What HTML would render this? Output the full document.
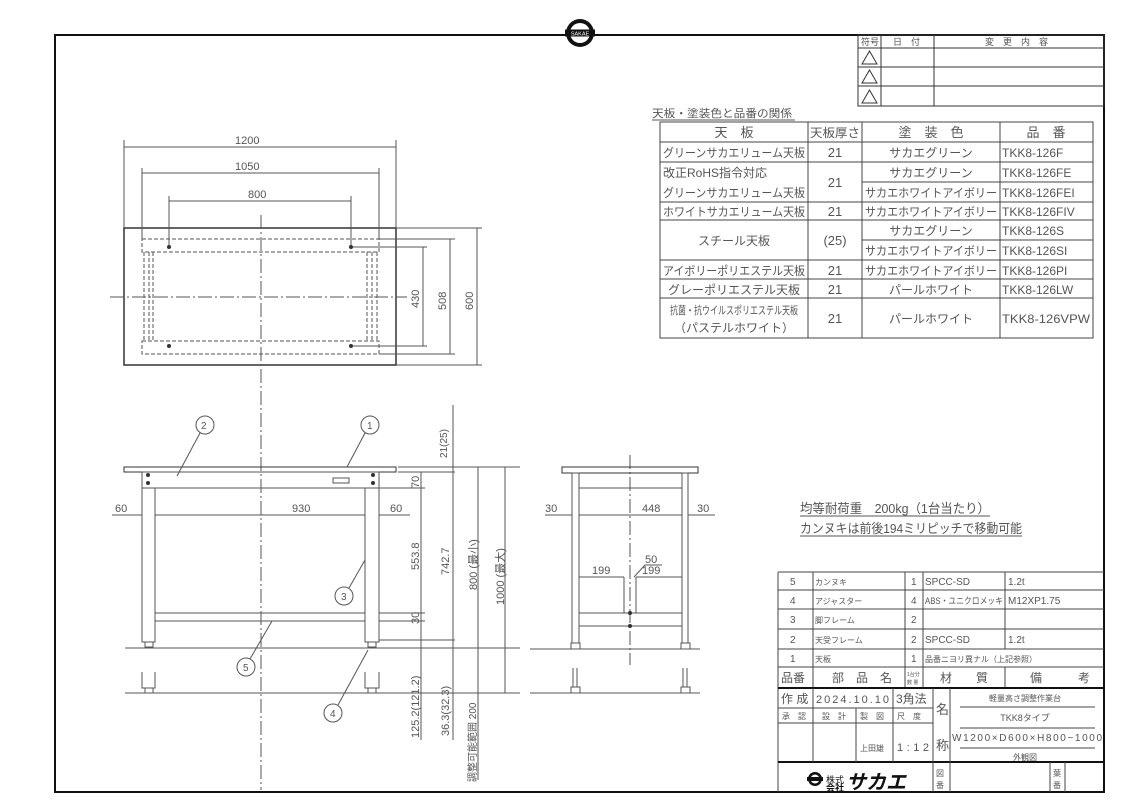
<!DOCTYPE html>
<html><head><meta charset="utf-8"><style>
html,body{margin:0;padding:0;background:#fff;}
svg{display:block;}
text{font-family:"Liberation Sans","Noto Sans CJK JP",sans-serif;fill:#555;}
</style></head><body>
<svg width="1143" height="808" viewBox="0 0 1143 808" xmlns="http://www.w3.org/2000/svg">
<g fill="none" stroke="#111">
<rect x="55" y="35" width="1049" height="757" stroke-width="2"/>
</g>
<!-- logo -->
<circle cx="580" cy="33" r="14" fill="#111"/>
<circle cx="580" cy="33" r="10" fill="#fff"/>
<rect x="565" y="29.5" width="30" height="7" fill="#111"/>
<text x="580" y="35.5" font-size="5.5" text-anchor="middle" style="fill:#fff">SAKAE</text>

<!-- revision table -->
<g stroke="#333" stroke-width="1" fill="none">
<rect x="858" y="35" width="246" height="71"/>
<line x1="858" y1="48" x2="1104" y2="48"/><line x1="858" y1="67" x2="1104" y2="67"/><line x1="858" y1="86" x2="1104" y2="86"/>
<line x1="881" y1="35" x2="881" y2="106"/><line x1="934" y1="35" x2="934" y2="106"/>
<polygon points="862,64 877,64 869.5,51"/><polygon points="862,83 877,83 869.5,70"/><polygon points="862,103 877,103 869.5,90"/>
</g>
<g font-size="9"><text x="861" y="45">符号</text><text x="893" y="45">日　付</text><text x="985" y="45">変　更　内　容</text></g>

<!-- color table -->
<text x="652" y="117" font-size="11" textLength="140" lengthAdjust="spacingAndGlyphs">天板・塗装色と品番の関係</text>
<line x1="652" y1="120" x2="795" y2="120" stroke="#555"/>
<g stroke="#444" stroke-width="1" fill="none">
<rect x="660" y="122" width="433" height="216"/>
<line x1="808" y1="122" x2="808" y2="338"/><line x1="862" y1="122" x2="862" y2="338"/><line x1="1000" y1="122" x2="1000" y2="338"/>
<line x1="660" y1="142" x2="1093" y2="142"/><line x1="660" y1="162" x2="1093" y2="162"/>
<line x1="862" y1="182" x2="1093" y2="182"/>
<line x1="660" y1="202" x2="1093" y2="202"/><line x1="660" y1="220" x2="1093" y2="220"/>
<line x1="862" y1="240" x2="1093" y2="240"/>
<line x1="660" y1="260" x2="1093" y2="260"/><line x1="660" y1="279" x2="1093" y2="279"/><line x1="660" y1="298" x2="1093" y2="298"/>
</g>
<g font-size="12" text-anchor="middle">
<text x="734" y="137" font-size="13">天　板</text><text x="835" y="137" textLength="50" lengthAdjust="spacingAndGlyphs">天板厚さ</text><text x="931" y="137" font-size="13">塗　装　色</text><text x="1046" y="137" font-size="13">品　番</text>
<text x="734" y="157" textLength="142" lengthAdjust="spacingAndGlyphs">グリーンサカエリューム天板</text><text x="835" y="157" font-size="13">21</text><text x="931" y="157">サカエグリーン</text>
<text x="931" y="177">サカエグリーン</text><text x="931" y="197" textLength="132" lengthAdjust="spacingAndGlyphs">サカエホワイトアイボリー</text>
<text x="835" y="187" font-size="13">21</text>
<text x="734" y="216" textLength="142" lengthAdjust="spacingAndGlyphs">ホワイトサカエリューム天板</text><text x="835" y="216" font-size="13">21</text><text x="931" y="216" textLength="132" lengthAdjust="spacingAndGlyphs">サカエホワイトアイボリー</text>
<text x="734" y="245">スチール天板</text><text x="835" y="245" font-size="13">(25)</text>
<text x="931" y="235">サカエグリーン</text><text x="931" y="255" textLength="132" lengthAdjust="spacingAndGlyphs">サカエホワイトアイボリー</text>
<text x="734" y="275" textLength="142" lengthAdjust="spacingAndGlyphs">アイボリーポリエステル天板</text><text x="835" y="275" font-size="13">21</text><text x="931" y="275" textLength="132" lengthAdjust="spacingAndGlyphs">サカエホワイトアイボリー</text>
<text x="734" y="294">グレーポリエステル天板</text><text x="835" y="294" font-size="13">21</text><text x="931" y="294">パールホワイト</text>
<text x="734" y="314" font-size="11" textLength="128" lengthAdjust="spacingAndGlyphs">抗菌・抗ウイルスポリエステル天板</text><text x="734" y="332">（パステルホワイト）</text>
<text x="835" y="323" font-size="13">21</text><text x="931" y="323">パールホワイト</text>
</g>
<g font-size="12">
<text x="663" y="177">改正RoHS指令対応</text><text x="663" y="197" textLength="142" lengthAdjust="spacingAndGlyphs">グリーンサカエリューム天板</text>
<text x="1002" y="157">TKK8-126F</text><text x="1002" y="177">TKK8-126FE</text><text x="1002" y="197">TKK8-126FEI</text>
<text x="1002" y="216">TKK8-126FIV</text><text x="1002" y="235">TKK8-126S</text><text x="1002" y="255">TKK8-126SI</text>
<text x="1002" y="275">TKK8-126PI</text><text x="1002" y="294">TKK8-126LW</text><text x="1002" y="323" textLength="88" lengthAdjust="spacingAndGlyphs">TKK8-126VPW</text>
</g>

<!-- note -->
<g font-size="13"><text x="800" y="513" textLength="190" lengthAdjust="spacingAndGlyphs">均等耐荷重　200kg（1台当たり）</text><text x="800" y="533" textLength="222" lengthAdjust="spacingAndGlyphs">カンヌキは前後194ミリピッチで移動可能</text></g>
<g stroke="#555"><line x1="800" y1="516" x2="990" y2="516"/><line x1="800" y1="536" x2="1022" y2="536"/></g>

<!-- parts list -->
<g stroke="#444" fill="none">
<line x1="778" y1="572" x2="1104" y2="572"/>
<line x1="778" y1="572" x2="778" y2="792"/>
<line x1="778" y1="590" x2="1104" y2="590"/><line x1="778" y1="609" x2="1104" y2="609"/><line x1="778" y1="629" x2="1104" y2="629"/><line x1="778" y1="649" x2="1104" y2="649"/><line x1="778" y1="667" x2="1104" y2="667"/>
<line x1="813" y1="572" x2="813" y2="688"/><line x1="905" y1="572" x2="905" y2="688"/><line x1="923" y1="572" x2="923" y2="688"/><line x1="1005" y1="572" x2="1005" y2="649"/><line x1="1005" y1="667" x2="1005" y2="688"/>
</g>
<g stroke="#111" stroke-width="2"><line x1="778" y1="688" x2="1104" y2="688"/><line x1="778" y1="762" x2="1104" y2="762"/></g>
<g stroke="#444" fill="none">
<line x1="778" y1="708" x2="933" y2="708"/><line x1="778" y1="723" x2="933" y2="723"/>
<line x1="813" y1="688" x2="813" y2="762"/><line x1="856" y1="708" x2="856" y2="762"/><line x1="893" y1="688" x2="893" y2="762"/>
<line x1="933" y1="688" x2="933" y2="792"/><line x1="950" y1="688" x2="950" y2="792"/>
<line x1="1050" y1="762" x2="1050" y2="792"/><line x1="1065" y1="762" x2="1065" y2="792"/>
<line x1="960" y1="707" x2="1095" y2="707"/><line x1="960" y1="728" x2="1095" y2="728"/><line x1="960" y1="748" x2="1095" y2="748"/>
</g>
<g font-size="10">
<text x="790" y="585">5</text><text x="815" y="585" font-size="8">カンヌキ</text><text x="911" y="585">1</text><text x="925" y="585">SPCC-SD</text><text x="1008" y="585">1.2t</text>
<text x="790" y="604">4</text><text x="815" y="604" font-size="8">アジャスター</text><text x="911" y="604">4</text><text x="925" y="604" font-size="9" textLength="78" lengthAdjust="spacingAndGlyphs">ABS・ユニクロメッキ</text><text x="1008" y="604">M12XP1.75</text>
<text x="790" y="623">3</text><text x="815" y="623" font-size="8">脚フレーム</text><text x="911" y="623">2</text>
<text x="790" y="643">2</text><text x="815" y="643" font-size="8">天受フレーム</text><text x="911" y="643">2</text><text x="925" y="643">SPCC-SD</text><text x="1008" y="643">1.2t</text>
<text x="790" y="662">1</text><text x="815" y="662" font-size="8">天板</text><text x="911" y="662">1</text><text x="925" y="662" font-size="8">品番ニヨリ異ナル（上記参照）</text>
<text x="781" y="682" font-size="12">品番</text><text x="832" y="682" font-size="12">部　品　名</text><text x="907" y="676" font-size="5">1台分</text><text x="907" y="684" font-size="5">数 量</text>
<text x="940" y="682" font-size="12">材　　質</text><text x="1030" y="682" font-size="12">備　　　考</text>
<text x="781" y="703" font-size="12">作 成</text><text x="816" y="703" font-size="11" textLength="73" lengthAdjust="spacing">2024.10.10</text><text x="896" y="703" font-size="12">3角法</text>
<text x="782" y="719" font-size="8">承　認</text><text x="822" y="719" font-size="8">設　計</text><text x="860" y="719" font-size="8">製　図</text><text x="897" y="719" font-size="8">尺　度</text>
<text x="860" y="751" font-size="8">上田雄</text><text x="897" y="751" font-size="11" textLength="32" lengthAdjust="spacing">1:12</text>
<text x="936" y="714" font-size="13">名</text><text x="936" y="750" font-size="13">称</text>
<text x="1025" y="701" font-size="8" text-anchor="middle">軽量高さ調整作業台</text>
<text x="1025" y="721" font-size="9" text-anchor="middle">TKK8タイプ</text>
<text x="1027" y="741" font-size="10" text-anchor="middle" textLength="150" lengthAdjust="spacing">W1200×D600×H800~1000</text>
<text x="1025" y="760" font-size="8" text-anchor="middle">外観図</text>
<text x="936" y="776" font-size="8">図</text><text x="936" y="788" font-size="8">番</text>
<text x="1053" y="776" font-size="8">葉</text><text x="1053" y="788" font-size="8">番</text>
<text x="826" y="783" font-size="9" style="fill:#111">株式</text><text x="826" y="791" font-size="9" style="fill:#111" font-weight="bold">会社</text>
<text x="846" y="789" font-size="20" font-weight="bold" font-style="italic" style="fill:#111">サカエ</text>
</g>
<circle cx="815" cy="779" r="7" fill="#111"/><circle cx="815" cy="779" r="4.5" fill="#fff"/><rect x="807" y="777" width="16" height="4" fill="#111"/>

<!-- DRAWING -->
<g stroke="#555" stroke-width="1" fill="none">
<rect x="124" y="228" width="272" height="137" stroke="#333" stroke-width="1.5"/>
<g stroke-dasharray="4,2">
<path d="M142,239 H379 V252 H142 Z M142,341 H379 V354 H142 Z"/>
<path d="M144,252 V341 M149,252 V341 M153,252 V341 M367,252 V341 M372,252 V341 M377,252 V341"/>
</g>
<g stroke-dasharray="14,3,2,3">
<line x1="261" y1="215" x2="261" y2="790"/>
<line x1="110" y1="297" x2="407" y2="297"/>
<line x1="630" y1="455" x2="630" y2="665"/>
</g>
<line x1="124" y1="140" x2="124" y2="228"/><line x1="396" y1="140" x2="396" y2="228"/>
<line x1="124" y1="147" x2="396" y2="147"/>
<line x1="142" y1="168" x2="142" y2="239"/><line x1="379" y1="168" x2="379" y2="239"/>
<line x1="142" y1="173" x2="379" y2="173"/>
<line x1="169" y1="196" x2="169" y2="247"/><line x1="351" y1="196" x2="351" y2="247"/>
<line x1="169" y1="201" x2="351" y2="201"/>
<line x1="396" y1="228" x2="482" y2="228"/><line x1="396" y1="365" x2="482" y2="365"/>
<line x1="379" y1="239" x2="455" y2="239"/><line x1="379" y1="354" x2="455" y2="354"/>
<line x1="351" y1="247" x2="427" y2="247"/><line x1="351" y1="346" x2="427" y2="346"/>
<line x1="423" y1="247" x2="423" y2="346"/><line x1="450" y1="239" x2="450" y2="354"/><line x1="477" y1="228" x2="477" y2="365"/>

<rect x="124" y="467" width="272" height="5" stroke="#333"/>
<rect x="142" y="472" width="237" height="16"/>
<rect x="142" y="488" width="13" height="154"/><rect x="365" y="488" width="14" height="154"/>
<rect x="155" y="613" width="210" height="8"/>
<rect x="333" y="478" width="16" height="5"/>
<rect x="145" y="642" width="8" height="5"/><rect x="368" y="642" width="8" height="5"/>
<line x1="125" y1="648" x2="520" y2="648"/><line x1="125" y1="693" x2="520" y2="693"/>
<path d="M142,672 V688 H155 V672 M365,672 V688 H379 V672"/>
<rect x="145" y="688" width="8" height="5"/><rect x="368" y="688" width="8" height="5"/>
<line x1="112" y1="515" x2="142" y2="515"/><line x1="155" y1="515" x2="365" y2="515"/><line x1="379" y1="515" x2="410" y2="515"/>
<line x1="398" y1="467" x2="520" y2="467"/><line x1="398" y1="472" x2="455" y2="472"/>
<line x1="379" y1="488" x2="425" y2="488"/><line x1="379" y1="613" x2="425" y2="613"/><line x1="379" y1="621" x2="425" y2="621"/>
<line x1="379" y1="640" x2="455" y2="640"/>
<line x1="421" y1="472" x2="421" y2="740"/><line x1="453" y1="405" x2="453" y2="740"/><line x1="478" y1="467" x2="478" y2="780"/><line x1="505" y1="467" x2="505" y2="693"/>

<rect x="562" y="467" width="136" height="6" stroke="#333"/>
<rect x="572" y="473" width="7" height="170"/><rect x="682" y="473" width="6" height="170"/>
<line x1="579" y1="488" x2="682" y2="488"/>
<rect x="579" y="613" width="103" height="13"/>
<rect x="571" y="643" width="9" height="6"/><rect x="681" y="643" width="9" height="6"/>
<line x1="530" y1="649" x2="700" y2="649"/><line x1="530" y1="693" x2="700" y2="693"/>
<path d="M573,668 V687 M577,668 V687 M683,668 V687 M687,668 V687"/>
<rect x="571" y="687" width="9" height="6"/><rect x="681" y="687" width="9" height="6"/>
<line x1="545" y1="515" x2="572" y2="515"/><line x1="579" y1="515" x2="682" y2="515"/><line x1="688" y1="515" x2="715" y2="515"/>
<line x1="579" y1="577" x2="624" y2="577"/><line x1="636" y1="577" x2="682" y2="577"/>
<line x1="624" y1="577" x2="624" y2="613"/><line x1="636" y1="577" x2="636" y2="613"/>
<line x1="634" y1="577" x2="645" y2="565"/><line x1="645" y1="565" x2="662" y2="565"/>
<circle cx="205" cy="425" r="9"/><circle cx="370" cy="425" r="9"/><circle cx="344" cy="596" r="9"/><circle cx="246" cy="667" r="9"/><circle cx="333" cy="713" r="9"/>
<line x1="200" y1="433" x2="177" y2="476"/><line x1="365" y1="433" x2="347" y2="467"/><line x1="349" y1="588" x2="365" y2="560"/><line x1="250" y1="659" x2="272" y2="621"/><line x1="338" y1="705" x2="368" y2="650"/>
</g>
<g fill="#333">
<circle cx="169" cy="247" r="2"/><circle cx="351" cy="247" r="2"/><circle cx="169" cy="346" r="2"/><circle cx="351" cy="346" r="2"/>
<circle cx="148" cy="475" r="2"/><circle cx="148" cy="483" r="2"/><circle cx="373" cy="475" r="2"/><circle cx="373" cy="483" r="2"/>
<circle cx="630" cy="613" r="2"/><circle cx="630" cy="626" r="2"/>
</g>
<g font-size="11">
<text x="235" y="144">1200</text><text x="235" y="170">1050</text><text x="248" y="198">800</text>
<text x="115" y="512">60</text><text x="292" y="512">930</text><text x="390" y="512">60</text>
<text x="545" y="512">30</text><text x="642" y="512">448</text><text x="697" y="512">30</text>
<text x="592" y="574">199</text><text x="642" y="574">199</text><text x="645" y="563">50</text>
<text x="201" y="429" font-size="10">2</text><text x="367" y="429" font-size="10">1</text><text x="341" y="600" font-size="10">3</text><text x="243" y="671" font-size="10">5</text><text x="330" y="717" font-size="10">4</text>
</g>
<g font-size="11">
<text transform="translate(419,308) rotate(-90)">430</text>
<text transform="translate(446,310) rotate(-90)">508</text>
<text transform="translate(473,310) rotate(-90)">600</text>
<text transform="translate(447,458) rotate(-90)" font-size="10">21(25)</text>
<text transform="translate(419,488) rotate(-90)">70</text>
<text transform="translate(419,570) rotate(-90)">553.8</text>
<text transform="translate(419,624) rotate(-90)">30</text>
<text transform="translate(449,575) rotate(-90)">742.7</text>
<text transform="translate(477,590) rotate(-90)">800 (最小)</text>
<text transform="translate(504,605) rotate(-90)">1000 (最大)</text>
<text transform="translate(419,738) rotate(-90)">125.2(121.2)</text>
<text transform="translate(449,736) rotate(-90)">36.3(32.3)</text>
<text transform="translate(476,782) rotate(-90)" font-size="10">調整可能範囲 200</text>
</g>
</svg>
</body></html>
